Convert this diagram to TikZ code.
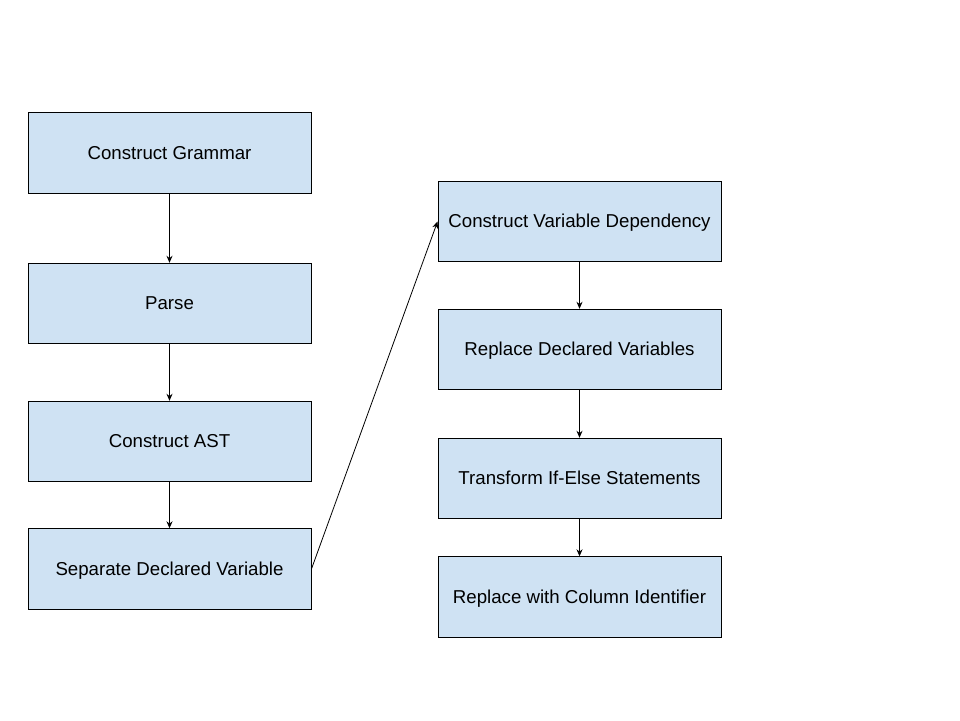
\documentclass[tikz,border=0pt]{standalone}
\usepackage{fontspec}
\setmainfont{Liberation Sans}
\usetikzlibrary{arrows.meta}
\definecolor{boxfill}{HTML}{CFE2F3}
\begin{document}
\begin{tikzpicture}[x=1pt,y=-1pt,
  stepbox/.style={draw=black,fill=boxfill,line width=0.9pt,minimum width=283pt,minimum height=80.5pt,inner sep=0pt,text height=13.5pt,text depth=1.5pt,font=\fontsize{18.67pt}{22pt}\selectfont},
  conn/.style={draw=black,line width=0.8pt,-{Stealth[length=7pt,width=6pt]}}]
\useasboundingbox (0,0) rectangle (960,720);
\node[stepbox] (g) at (169.5,153) {Construct Grammar};
\node[stepbox] (p) at (169.5,303.5) {Parse};
\node[stepbox] (a) at (169.5,441.5) {Construct AST};
\node[stepbox] (s) at (169.5,569) {Separate Declared Variable};
\node[stepbox] (d) at (579.5,221.5) {Construct Variable Dependency};
\node[stepbox] (r) at (579.5,349.5) {Replace Declared Variables};
\node[stepbox] (t) at (579.5,478.5) {Transform If-Else Statements};
\node[stepbox] (c) at (579.5,597) {Replace with Column Identifier};
\draw[conn] (g) -- (p);
\draw[conn] (p) -- (a);
\draw[conn] (a) -- (s);
\draw[conn] (s.east) -- (d.west);
\draw[conn] (d) -- (r);
\draw[conn] (r) -- (t);
\draw[conn] (t) -- (c);
\end{tikzpicture}
\end{document}
